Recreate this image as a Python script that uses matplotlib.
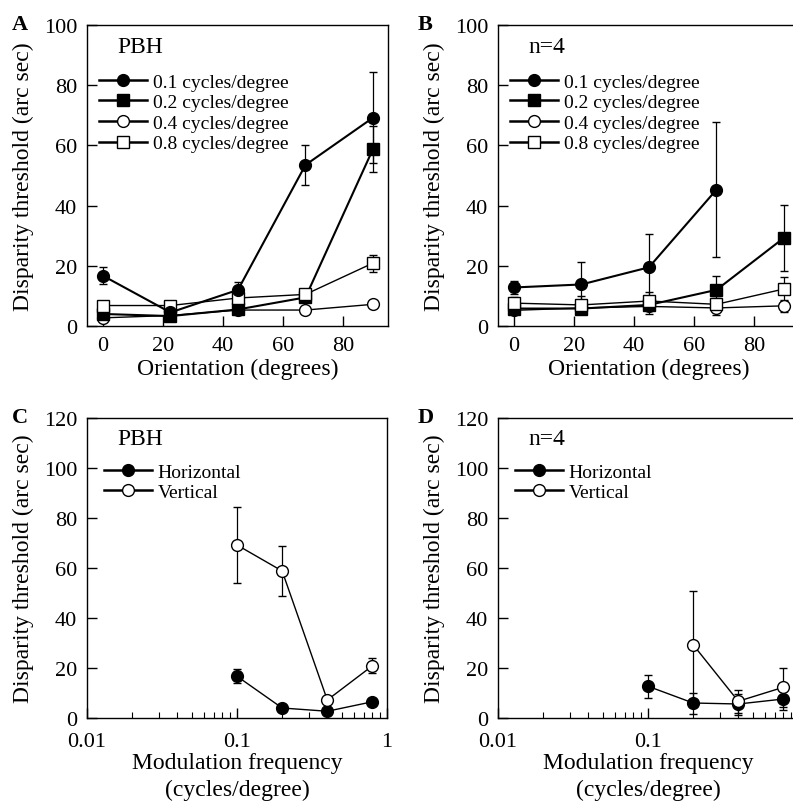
import numpy as np
import matplotlib
matplotlib.use('Agg')
import matplotlib.pyplot as plt
from matplotlib.lines import Line2D
from matplotlib.ticker import LogLocator, NullFormatter, FixedLocator

plt.rcParams['font.family'] = ['Liberation Serif', 'DejaVu Serif']

# ---------------------------------------------------------------- data
orient = [0, 22.5, 45, 67.5, 90]
sf_labels = ['0.1 cycles/degree', '0.2 cycles/degree',
             '0.4 cycles/degree', '0.8 cycles/degree']

# panel A (PBH)
pbh_01 = [16.7, 4.5, 12.0, 53.5, 69.2]
pbh_01_err = [2.8, 0.5, 2.6, 6.6, 15.2]
pbh_02 = [4.0, 3.3, 5.5, 9.5, 58.8]
pbh_02_err = [0.5, 0.5, 0.5, 1.0, 7.8]
pbh_04 = [2.7, 3.5, 5.3, 5.3, 7.2]
pbh_04_err = [0.4, 0.4, 0.5, 0.5, 0.5]
pbh_08 = [6.8, 6.8, 9.3, 10.5, 20.9]
pbh_08_err = [0.5, 0.5, 0.8, 1.5, 2.8]

# panel B (n=4)
n4_orient_01 = [0, 22.5, 45, 67.5]
n4_01 = [12.8, 13.8, 19.5, 45.3]
n4_01_err = [2.3, 7.5, 11.0, 22.5]
n4_02 = [5.8, 5.8, 7.0, 12.0, 29.3]
n4_02_err = [1.0, 1.0, 1.0, 4.5, 11.0]
n4_04 = [5.2, 6.0, 6.5, 6.0, 6.7]
n4_04_err = [1.0, 1.0, 2.5, 2.5, 2.0]
n4_08 = [7.6, 7.0, 8.3, 7.2, 12.3]
n4_08_err = [2.0, 3.0, 3.0, 2.0, 4.0]

# panel C (PBH) and D (n=4)
freq = [0.1, 0.2, 0.4, 0.8]
pbh_h = [16.7, 4.0, 2.7, 6.5]
pbh_h_err = [2.8, 0.5, 0.5, 0.5]
pbh_v = [69.2, 58.8, 7.2, 20.9]
pbh_v_err = [15.2, 10.0, 0.5, 3.0]

freq_v4 = [0.2, 0.4, 0.8]
n4_h = [12.7, 6.0, 5.6, 7.6]
n4_h_err = [4.6, 4.2, 4.2, 4.5]
n4_v = [29.3, 6.7, 12.3]
n4_v_err = [21.7, 4.5, 7.8]

# ---------------------------------------------------------------- style
W, H = 793, 803
TickLabel, AxesLabel, LegendSize, TagSize = 16, 17, 14, 17
lw_thick, lw_thin = 1.5, 1.0
ms = 8.5


def frac(px_left, px_top, px_w, px_h):
    return [px_left / W, 1 - (px_top + px_h) / H, px_w / W, px_h / H]


def style(ax):
    for s in ax.spines.values():
        s.set_linewidth(1.0)
    ax.tick_params(which='major', direction='in', length=7, width=1.0,
                   labelsize=TickLabel, pad=7, top=False, right=False)
    ax.tick_params(which='minor', direction='in', length=4, width=0.8,
                   top=False, right=False)
    ax.set_ylabel('Disparity threshold (arc sec)', fontsize=AxesLabel, labelpad=7)


def series(ax, x, y, e, marker, fc, lw):
    ax.errorbar(x, y, yerr=e, color='black', lw=lw, marker=marker, ms=ms,
                mfc=fc, mec='black', mew=1.0, capsize=3, elinewidth=0.9,
                capthick=0.9)


def handle(marker, fc):
    return Line2D([], [], color='black', lw=1.8, marker=marker, ms=ms,
                  mfc=fc, mec='black', mew=1.0)


def legend(ax, handles, labels, x0, y0):
    ax.legend(handles, labels, loc='upper left', bbox_to_anchor=(x0, y0),
              frameon=False, fontsize=LegendSize, handlelength=2.45,
              handletextpad=0.3, labelspacing=0.15, borderpad=0,
              borderaxespad=0)


fig = plt.figure(figsize=(W / 100, H / 100), dpi=100)
axA = fig.add_axes(frac(87, 26, 301, 301))
axB = fig.add_axes(frac(498, 26, 301, 301))
axC = fig.add_axes(frac(87, 419, 300, 300))
axD = fig.add_axes(frac(498, 419, 300, 300))

kinds = [('o', 'black', lw_thick), ('s', 'black', lw_thick),
         ('o', 'white', lw_thin), ('s', 'white', lw_thin)]

# orientation panels
for ax, data, tag in [
    (axA, [(orient, pbh_01, pbh_01_err), (orient, pbh_02, pbh_02_err),
           (orient, pbh_04, pbh_04_err), (orient, pbh_08, pbh_08_err)], 'PBH'),
    (axB, [(n4_orient_01, n4_01, n4_01_err), (orient, n4_02, n4_02_err),
           (orient, n4_04, n4_04_err), (orient, n4_08, n4_08_err)], 'n=4'),
]:
    for i in [2, 1, 3, 0]:
        x, y, e = data[i]
        m, fc, lw = kinds[i]
        series(ax, x, y, e, m, fc, lw)
    style(ax)
    ax.set_xlim(-5.3, 95)
    ax.set_ylim(0, 100)
    ax.set_xticks([0, 20, 40, 60, 80])
    ax.set_yticks([0, 20, 40, 60, 80, 100])
    ax.set_xlabel('Orientation (degrees)', fontsize=AxesLabel, labelpad=2)
    ax.text(0.1, 0.93, tag, transform=ax.transAxes, fontsize=TagSize, va='center')
    legend(ax, [handle(k[0], k[1]) for k in kinds], sf_labels, 0.04, 0.84)

# frequency panels
for ax, h_data, v_data, tag, last in [
    (axC, (freq, pbh_h, pbh_h_err), (freq, pbh_v, pbh_v_err), 'PBH', '1'),
    (axD, (freq, n4_h, n4_h_err), (freq_v4, n4_v, n4_v_err), 'n=4', ''),
]:
    series(ax, *h_data, 'o', 'black', lw_thin)
    series(ax, *v_data, 'o', 'white', lw_thin)
    style(ax)
    ax.set_xscale('log')
    ax.set_xlim(0.01, 1)
    ax.set_ylim(0, 120)
    ax.set_yticks([0, 20, 40, 60, 80, 100, 120])
    ax.xaxis.set_major_locator(FixedLocator([0.01, 0.1, 1]))
    ax.set_xticklabels(['0.01', '0.1', last])
    ax.xaxis.set_minor_locator(LogLocator(base=10, subs=np.arange(2, 10)))
    ax.xaxis.set_minor_formatter(NullFormatter())
    ax.tick_params(axis='x', which='major', pad=10)
    ax.set_xlabel('Modulation frequency\n(cycles/degree)', fontsize=AxesLabel,
                  labelpad=1, linespacing=1.35)
    ax.text(0.1, 0.93, tag, transform=ax.transAxes, fontsize=TagSize, va='center')
    legend(ax, [handle('o', 'black'), handle('o', 'white')],
           ['Horizontal', 'Vertical'], 0.057, 0.85)

# panel letters
for letter, px, py in [('A', 12, 25), ('B', 418, 25), ('C', 12, 418), ('D', 418, 418)]:
    fig.text(px / W, 1 - py / H, letter, fontsize=16, fontweight='bold', va='center')

fig.savefig('out.png', dpi=100)
